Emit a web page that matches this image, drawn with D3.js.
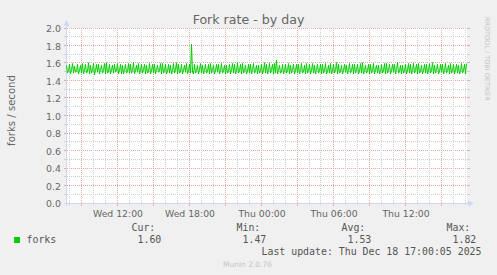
<!DOCTYPE html>
<html>
<head>
<meta charset="utf-8">
<script src="https://cdn.jsdelivr.net/npm/d3@7"></script>
<style>
  body { margin: 0; background: #f0f0f0; }
  svg { display: block; }
  text { font-family: "DejaVu Sans", sans-serif; fill: #666666; }
  .mono { font-family: "DejaVu Sans Mono", monospace; }
</style>
</head>
<body>
<svg id="chart" width="497" height="275"></svg>
<script>
const titleText = "Fork rate - by day";
const yAxisLabel = "forks / second";
const seriesName = "forks";
const startTime = new Date(2025, 11, 17, 7, 45);
const stepMinutes = 5;
const yTicks = [0.0, 0.2, 0.4, 0.6, 0.8, 1.0, 1.2, 1.4, 1.6, 1.8, 2.0];
const legendHeaders = ["Cur:", "Min:", "Avg:", "Max:"];
const legendValues = ["1.60", "1.47", "1.53", "1.82"];
const lastUpdate = "Last update: Thu Dec 18 17:00:05 2025";
const footer = "Munin 2.0.76";
const watermark = "RRDTOOL / TOBI OETIKER";

// 5-minute samples, oldest first
const forkValues = [
  1.58,1.49,1.52,1.59,1.48,1.53,1.60,1.49,
  1.57,1.50,1.51,1.59,1.48,1.52,1.58,1.49,
  1.60,1.48,1.53,1.59,1.49,1.51,1.61,1.48,
  1.58,1.49,1.52,1.60,1.47,1.52,1.59,1.50,
  1.59,1.48,1.53,1.58,1.49,1.52,1.60,1.48,
  1.61,1.49,1.51,1.59,1.48,1.53,1.58,1.49,
  1.59,1.50,1.52,1.60,1.48,1.52,1.59,1.48,
  1.58,1.48,1.53,1.59,1.49,1.51,1.60,1.49,
  1.59,1.49,1.52,1.61,1.48,1.52,1.58,1.50,
  1.60,1.48,1.52,1.59,1.49,1.53,1.59,1.48,
  1.58,1.49,1.51,1.60,1.48,1.52,1.59,1.49,
  1.59,1.48,1.53,1.58,1.50,1.52,1.60,1.48,
  1.60,1.49,1.52,1.59,1.48,1.51,1.59,1.49,
  1.58,1.48,1.52,1.60,1.49,1.53,1.61,1.48,
  1.59,1.49,1.51,1.59,1.48,1.52,1.58,1.50,
  1.60,1.48,1.52,1.59,1.49,1.82,1.50,1.48,
  1.59,1.49,1.52,1.58,1.48,1.53,1.60,1.49,
  1.58,1.48,1.52,1.59,1.49,1.51,1.59,1.48,
  1.60,1.49,1.53,1.58,1.48,1.52,1.59,1.50,
  1.59,1.48,1.52,1.60,1.49,1.52,1.58,1.48,
  1.58,1.49,1.51,1.59,1.48,1.53,1.60,1.49,
  1.59,1.48,1.52,1.61,1.49,1.52,1.59,1.48,
  1.60,1.49,1.52,1.58,1.48,1.51,1.59,1.49,
  1.59,1.48,1.53,1.60,1.49,1.52,1.58,1.48,
  1.58,1.49,1.52,1.59,1.48,1.52,1.61,1.49,
  1.59,1.48,1.52,1.60,1.49,1.53,1.59,1.48,
  1.60,1.49,1.64,1.48,1.52,1.58,1.49,1.50,
  1.59,1.48,1.52,1.59,1.49,1.52,1.60,1.48,
  1.58,1.49,1.53,1.59,1.48,1.52,1.59,1.49,
  1.59,1.48,1.52,1.60,1.49,1.51,1.58,1.48,
  1.60,1.49,1.52,1.59,1.48,1.52,1.60,1.49,
  1.58,1.48,1.53,1.59,1.49,1.52,1.59,1.48,
  1.59,1.49,1.52,1.60,1.48,1.51,1.58,1.49,
  1.60,1.48,1.52,1.59,1.49,1.53,1.61,1.48,
  1.59,1.49,1.51,1.58,1.48,1.52,1.59,1.50,
  1.58,1.48,1.52,1.60,1.49,1.52,1.59,1.48,
  1.59,1.49,1.53,1.59,1.48,1.51,1.60,1.49,
  1.61,1.48,1.52,1.58,1.49,1.52,1.59,1.48,
  1.59,1.49,1.52,1.60,1.48,1.53,1.58,1.49,
  1.58,1.48,1.51,1.59,1.49,1.52,1.60,1.48,
  1.60,1.49,1.52,1.59,1.48,1.52,1.59,1.50,
  1.59,1.48,1.53,1.61,1.49,1.51,1.58,1.48,
  1.58,1.49,1.52,1.59,1.48,1.52,1.60,1.49,
  1.59,1.48,1.52,1.60,1.49,1.53,1.59,1.48,
  1.60,1.49,1.51,1.58,1.48,1.52,1.59,1.49,
  1.59,1.48,1.52,1.60,1.49,1.52,1.61,1.48,
  1.58,1.49,1.53,1.59,1.48,1.51,1.59,1.50,
  1.59,1.48,1.52,1.60,1.49,1.52,1.58,1.48,
  1.60,1.49,1.52,1.59,1.48,1.53,1.59,1.49,
  1.58,1.48,1.51,1.60,1.49,1.52,1.59,1.48,
  1.60
];

const svg = d3.select("#chart");
const plotLeft = 66.5, plotRight = 466.5, plotTop = 28.5, plotBottom = 203.5;

const points = forkValues.map(function(v, i) {
  return { t: new Date(startTime.getTime() + i * stepMinutes * 60000), v: v };
});

const x = d3.scaleTime()
  .domain([points[0].t, points[points.length - 1].t])
  .range([plotLeft, plotRight]);
const y = d3.scaleLinear().domain([0, 2]).range([plotBottom, plotTop]);

svg.append("rect").attr("width", 497).attr("height", 275).attr("fill", "#f0f0f0");
svg.append("rect")
  .attr("x", 67).attr("y", 28).attr("width", 400).attr("height", 175)
  .attr("fill", "#ffffff");

const minorCol = "#cfcfcf", majorCol = "#e8a8a8";
const grid = svg.append("g").attr("shape-rendering", "crispEdges");

// horizontal grid
const yMinor = d3.range(0, 2.01, 0.1);
yMinor.forEach(function(v) {
  const major = Math.round(v * 10) % 2 === 0;
  const yy = Math.round(y(v)) - 0.5;
  const col = major ? majorCol : minorCol;
  grid.append("line").attr("x1", 64).attr("x2", 67).attr("y1", yy).attr("y2", yy).attr("stroke", col);
  grid.append("line").attr("x1", 467).attr("x2", 470).attr("y1", yy).attr("y2", yy).attr("stroke", col);
  grid.append("line").attr("x1", 67).attr("x2", 467).attr("y1", yy).attr("y2", yy)
    .attr("stroke", col).attr("stroke-dasharray", "1,1");
});

// vertical grid
const hourTicks = x.ticks(d3.timeHour.every(1));
hourTicks.forEach(function(t) {
  const major = t.getHours() % 3 === 0;
  const xx = Math.round(x(t)) - 0.5;
  const col = major ? majorCol : minorCol;
  const ext = major ? 3 : 2;
  grid.append("line").attr("x1", xx).attr("x2", xx).attr("y1", 203).attr("y2", 203 + ext).attr("stroke", col);
  grid.append("line").attr("x1", xx).attr("x2", xx).attr("y1", 28).attr("y2", 203)
    .attr("stroke", col).attr("stroke-dasharray", "1,1");
});

// axes
const axisCol = "#cfd6f8";
svg.append("line").attr("x1", 64).attr("x2", 470).attr("y1", 203.5).attr("y2", 203.5).attr("stroke", axisCol);
svg.append("line").attr("x1", 66.5).attr("x2", 66.5).attr("y1", 206).attr("y2", 24).attr("stroke", axisCol);
svg.append("path").attr("d", "M468,200.5L474,203.5L468,206.5Z").attr("fill", axisCol);
svg.append("path").attr("d", "M63.5,26L66.5,20L69.5,26Z").attr("fill", axisCol);

// y tick labels
svg.append("g").selectAll("text").data(yTicks).join("text")
  .attr("x", 61).attr("y", function(d) { return y(d) + 3.5; })
  .attr("text-anchor", "end").style("font-size", "9.4px")
  .text(function(d) { return d.toFixed(1); });

// x tick labels
const labelFmt = d3.timeFormat("%a %H:%M");
svg.append("g").selectAll("text").data(x.ticks(d3.timeHour.every(6))).join("text")
  .attr("x", function(d) { return x(d) + 0.5; }).attr("y", 216.5)
  .attr("text-anchor", "middle").style("font-size", "9.3px")
  .text(function(d) { return labelFmt(d); });

// series line
const line = d3.line().x(function(d) { return x(d.t); }).y(function(d) { return y(d.v); });
svg.append("path").datum(points)
  .attr("d", line).attr("fill", "none").attr("stroke", "#00cc00").attr("stroke-width", 1);

// title and axis label
svg.append("text").attr("x", 248.5).attr("y", 24).attr("text-anchor", "middle")
  .style("font-size", "12.6px").text(titleText);
svg.append("text").attr("transform", "translate(15,110.5) rotate(-90)")
  .attr("text-anchor", "middle").style("font-size", "10.1px").text(yAxisLabel);

// watermark
svg.append("text").attr("transform", "translate(485,17) rotate(90)")
  .style("font-size", "6.5px").style("fill", "#c4c4c4").text(watermark);

// legend
const headerX = [131.5, 236.5, 341.5, 446.5];
const valueX = [137.5, 242.5, 347.5, 452.5];
const legend = svg.append("g").attr("class", "legend");
legend.selectAll(".hdr").data(legendHeaders).join("text")
  .attr("class", "mono hdr").attr("x", function(d, i) { return headerX[i]; }).attr("y", 231)
  .style("font-size", "9.9px").style("fill", "#555").text(function(d) { return d; });
legend.selectAll(".val").data(legendValues).join("text")
  .attr("class", "mono val").attr("x", function(d, i) { return valueX[i]; }).attr("y", 243)
  .style("font-size", "9.9px").style("fill", "#555").text(function(d) { return d; });
legend.append("rect").attr("x", 14).attr("y", 237).attr("width", 6).attr("height", 6).attr("fill", "#00cc00");
legend.append("text").attr("class", "mono").attr("x", 26.5).attr("y", 243)
  .style("font-size", "9.9px").style("fill", "#555").text(seriesName);
legend.append("text").attr("class", "mono").attr("x", 261.5).attr("y", 255)
  .style("font-size", "9.9px").style("fill", "#555").text(lastUpdate);
svg.append("text").attr("x", 247.5).attr("y", 267).attr("text-anchor", "middle")
  .style("font-size", "7.5px").style("fill", "#c4c4c4").text(footer);
</script>
</body>
</html>
